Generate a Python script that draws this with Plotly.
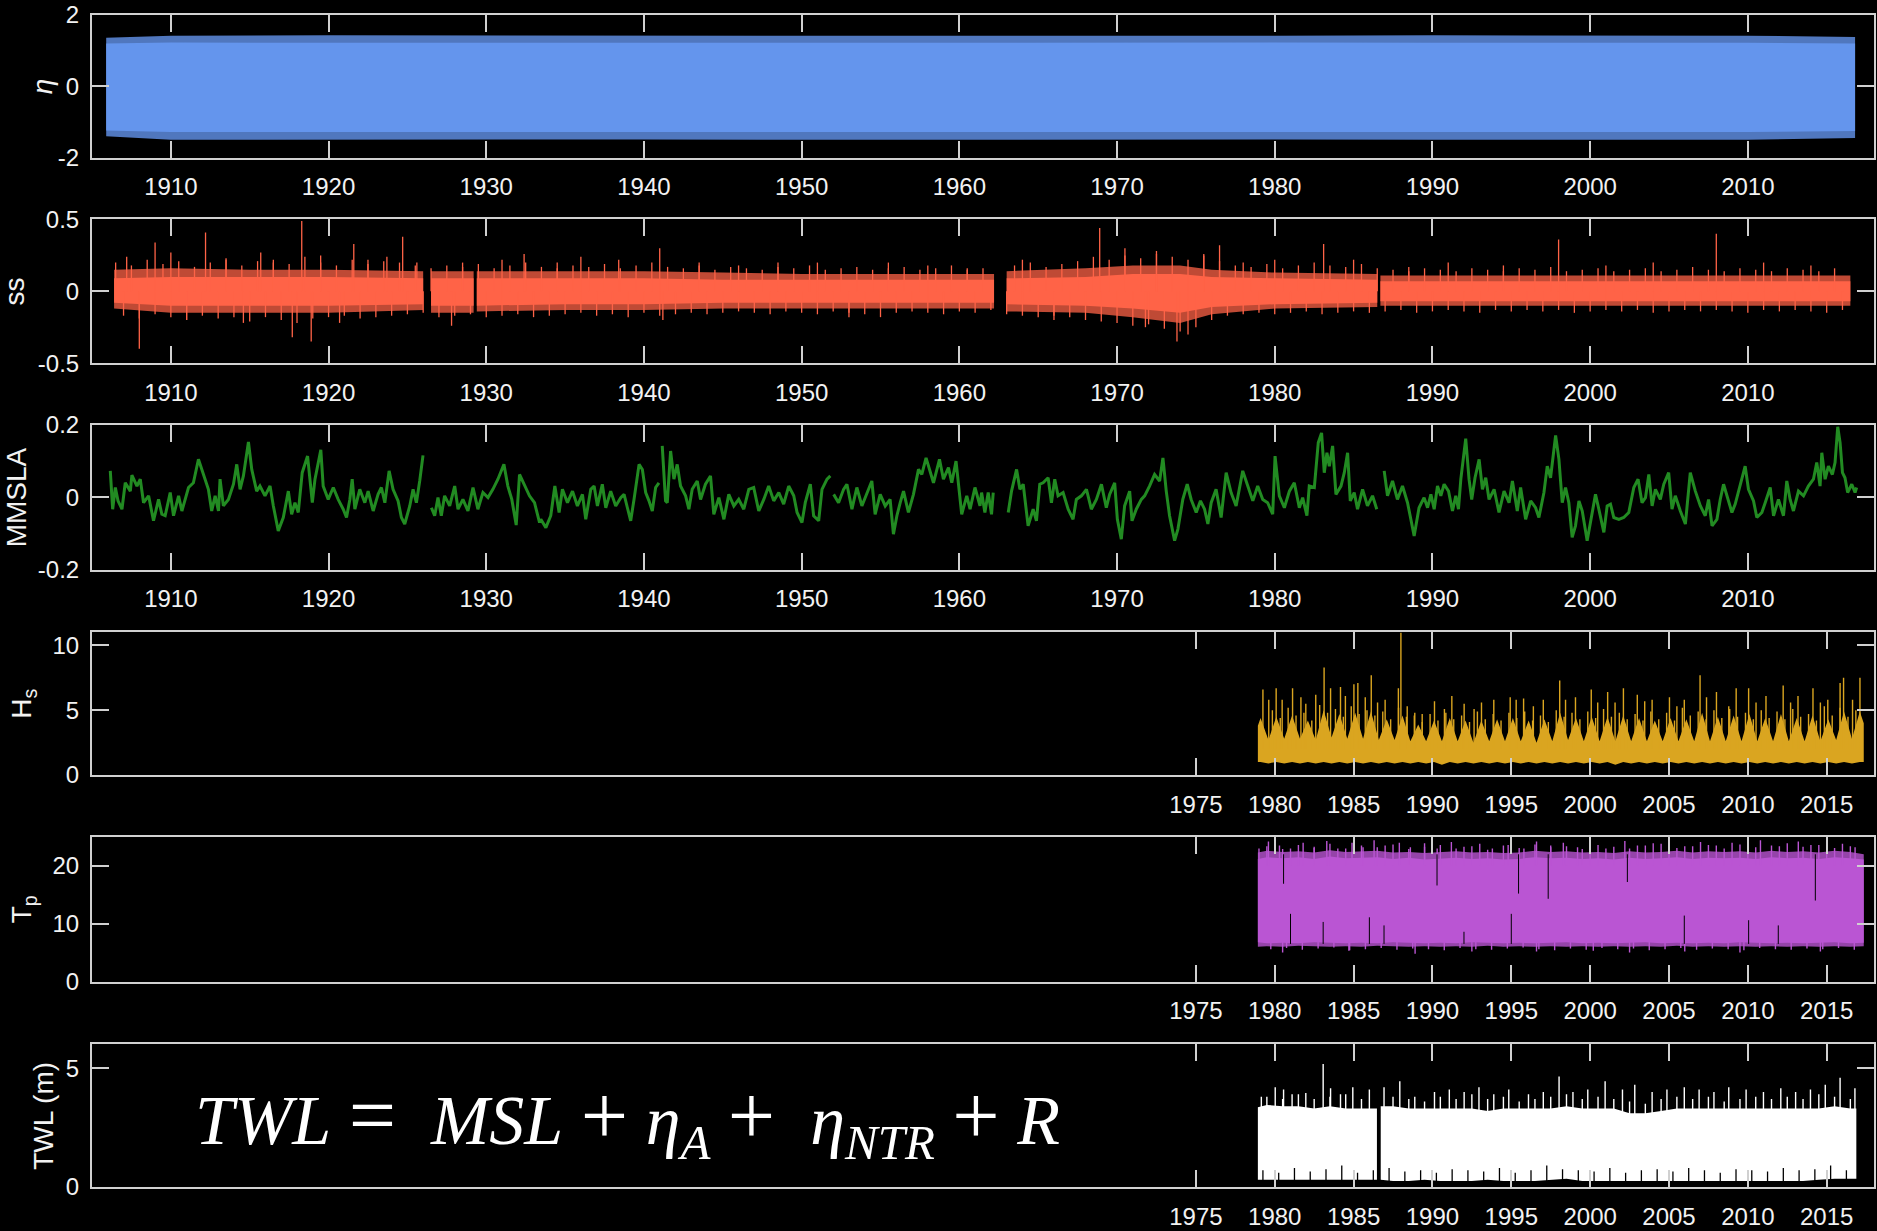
import plotly.graph_objects as go

# ------------------------------------------------------------------ DATA
YEAR_RANGE = [1905, 2018]
ticks_long = [1910, 1920, 1930, 1940, 1950, 1960, 1970, 1980, 1990, 2000, 2010]
ticks_short = [1975, 1980, 1985, 1990, 1995, 2000, 2005, 2010, 2015]

# eta (astronomical tide): dense band -> solid core + spiky fringe levels
eta_t = [1905.9, 1910, 1920, 1930, 1940, 1950, 1960, 1970, 1980, 1990, 2000, 2010, 2016.8]
eta_core_hi = [1.20, 1.23, 1.22, 1.23, 1.22, 1.22, 1.23, 1.22, 1.23, 1.22, 1.23, 1.22, 1.20]
eta_core_lo = [-1.24, -1.28, -1.28, -1.27, -1.28, -1.28, -1.27, -1.28, -1.28, -1.27, -1.28, -1.28, -1.25]
eta_spk_hi = [1.36, 1.42, 1.43, 1.42, 1.41, 1.42, 1.42, 1.41, 1.42, 1.43, 1.42, 1.42, 1.38]
eta_spk_lo = [-1.40, -1.50, -1.51, -1.50, -1.49, -1.50, -1.51, -1.50, -1.49, -1.50, -1.51, -1.50, -1.45]

# ss (storm surge): core band, fringe band, extreme spikes, yearly envelope spikes
ss_t = [1906.4, 1910, 1915, 1920, 1926.0, None,
        1926.5, 1929.2, None,
        1929.4, 1935, 1940, 1945, 1950, 1955, 1962.2, None,
        1963.0, 1968, 1971, 1974, 1976, 1980, 1986.5, None,
        1986.7, 1990, 1995, 2000, 2005, 2010, 2016.5]
ss_core_hi = [0.09, 0.10, 0.10, 0.10, 0.09, None,
              0.09, 0.09, None,
              0.09, 0.09, 0.09, 0.08, 0.08, 0.08, 0.08, None,
              0.09, 0.10, 0.12, 0.12, 0.10, 0.09, 0.08, None,
              0.07, 0.07, 0.07, 0.07, 0.07, 0.07, 0.07]
ss_core_lo = [-0.08, -0.10, -0.10, -0.10, -0.09, None,
              -0.10, -0.10, None,
              -0.10, -0.09, -0.09, -0.08, -0.08, -0.08, -0.08, None,
              -0.09, -0.10, -0.12, -0.15, -0.11, -0.09, -0.08, None,
              -0.07, -0.07, -0.07, -0.07, -0.07, -0.07, -0.07]
ss_frg_hi = [0.15, 0.16, 0.15, 0.15, 0.14, None,
             0.14, 0.14, None,
             0.14, 0.14, 0.14, 0.13, 0.12, 0.12, 0.12, None,
             0.14, 0.16, 0.18, 0.18, 0.15, 0.13, 0.12, None,
             0.11, 0.11, 0.11, 0.11, 0.11, 0.11, 0.11]
ss_frg_lo = [-0.12, -0.15, -0.15, -0.15, -0.13, None,
             -0.15, -0.15, None,
             -0.14, -0.13, -0.13, -0.12, -0.12, -0.12, -0.12, None,
             -0.14, -0.15, -0.18, -0.22, -0.16, -0.12, -0.11, None,
             -0.10, -0.10, -0.10, -0.10, -0.10, -0.10, -0.10]
ss_spk_t = [1907.2, 1908.0, 1909.0, 1910.0, 1911.0, 1912.2, 1913.5, 1914.6, 1915.7, 1916.5,
            1917.7, 1918.3, 1918.9, 1919.5, 1920.7, 1921.6, 1922.5, 1923.7, 1924.7, 1925.6,
            1927.8, 1928.5, 1931.0, 1932.4, 1934.5, 1936.0, 1938.4, 1941.0, 1941.2, 1943.5,
            1946.0, 1948.5, 1951.0, 1953.0, 1955.5, 1958.0, 1960.5, 1964.0, 1966.0, 1968.9,
            1970.5, 1971.8, 1972.5, 1973.8, 1974.5, 1975.5, 1976.5, 1978.0, 1980.0, 1983.1,
            1985.0, 1988.5, 1991.0, 1994.5, 1998.0, 2001.0, 2004.0, 2008.0, 2011.0, 2014.0]
ss_spk_v = [0.24, -0.40, 0.34, 0.27, -0.20, 0.41, 0.22, -0.22, 0.27, 0.20,
            -0.32, 0.49, -0.35, 0.25, -0.22, 0.33, 0.22, 0.24, 0.38, 0.20,
            -0.24, 0.20, 0.22, 0.26, 0.20, 0.24, 0.22, 0.30, -0.20, 0.20,
            0.18, 0.20, 0.20, -0.18, 0.20, 0.18, 0.16, 0.22, -0.20, 0.44,
            0.30, -0.25, 0.28, -0.35, -0.30, 0.26, 0.32, 0.20, 0.22, 0.33,
            0.22, 0.17, 0.20, 0.18, 0.36, 0.18, 0.20, 0.40, 0.20, 0.18]
# typical yearly positive peak (mid-year samples, 1906.5 ... 2015.5 without 1962.5)
ss_yr_hi_t = [y + 0.5 for y in range(1906, 2016) if y != 1962]
ss_yr_hi_v = [0.20, 0.18, 0.22, 0.19, 0.21, 0.17, 0.20, 0.23, 0.18, 0.21,
              0.22, 0.19, 0.24, 0.20, 0.18, 0.22, 0.19, 0.21, 0.20, 0.18,
              0.16, 0.18, 0.17, 0.19, 0.16, 0.18, 0.20, 0.17, 0.16, 0.18,
              0.17, 0.19, 0.16, 0.18, 0.20, 0.17, 0.16, 0.18, 0.15, 0.17,
              0.16, 0.15, 0.17, 0.16, 0.18, 0.15, 0.16, 0.17, 0.15, 0.16,
              0.17, 0.15, 0.16, 0.18, 0.15, 0.16,
              0.18, 0.20, 0.17, 0.19, 0.21, 0.24, 0.22, 0.25, 0.23, 0.26,
              0.24, 0.22, 0.25, 0.21, 0.18, 0.17, 0.19, 0.16, 0.18, 0.20,
              0.18, 0.17, 0.19, 0.16, 0.15, 0.14, 0.16, 0.15, 0.14, 0.16,
              0.15, 0.14, 0.16, 0.15, 0.17, 0.14, 0.15, 0.16, 0.14, 0.15,
              0.16, 0.14, 0.15, 0.17, 0.15, 0.14, 0.16, 0.15, 0.14, 0.16,
              0.15, 0.14, 0.16]
# typical yearly negative peak (start-of-year samples, 1907 ... 2016)
ss_yr_lo_t = [y + 0.0 for y in range(1907, 2017)]
ss_yr_lo_v = [-0.17, -0.19, -0.16, -0.18, -0.20, -0.17, -0.19, -0.18, -0.21, -0.18,
              -0.20, -0.22, -0.19, -0.18, -0.17, -0.19, -0.18, -0.17, -0.16, -0.15,
              -0.18, -0.17, -0.16, -0.18, -0.17, -0.16, -0.18, -0.17, -0.16, -0.15,
              -0.17, -0.16, -0.18, -0.15, -0.17, -0.16, -0.15, -0.16, -0.15, -0.14,
              -0.15, -0.16, -0.14, -0.15, -0.16, -0.14, -0.15, -0.16, -0.18, -0.15,
              -0.14, -0.15, -0.16, -0.14, -0.15, -0.13, -0.16, -0.17, -0.18, -0.17,
              -0.18, -0.20, -0.21, -0.22, -0.24, -0.23, -0.26, -0.28, -0.25, -0.20,
              -0.17, -0.16, -0.15, -0.16, -0.15, -0.14, -0.16, -0.15, -0.14, -0.15,
              -0.14, -0.13, -0.15, -0.14, -0.13, -0.14, -0.15, -0.13, -0.14, -0.13,
              -0.14, -0.13, -0.15, -0.14, -0.13, -0.14, -0.13, -0.15, -0.14, -0.13,
              -0.14, -0.13, -0.14, -0.15, -0.13, -0.14, -0.13, -0.14, -0.15, -0.13]

# MMSLA (monthly mean sea level anomaly)
mm_t = [1906.16, 1906.31, 1906.48, 1906.65, 1906.90, 1907.11, 1907.43, 1907.53, 1907.85, 1908.06,
        1908.27, 1908.59, 1908.90, 1909.22, 1909.43, 1909.64, 1909.96, 1910.17, 1910.49, 1910.70,
        1911.12, 1911.43, 1911.75, 1912.07, 1912.38, 1912.59, 1912.81, 1913.02, 1913.12, 1913.33,
        1913.65, 1913.97, 1914.18, 1914.39, 1914.60, 1914.92, 1915.13, 1915.44, 1915.65, 1915.97,
        1916.29, 1916.50, 1916.81, 1917.13, 1917.45, 1917.66, 1917.87, 1918.08, 1918.33, 1918.67,
        1918.82, 1918.97, 1919.14, 1919.51, 1919.66, 1919.98, 1920.30, 1920.61, 1920.93, 1921.14,
        1921.35, 1921.50, 1921.67, 1921.98, 1922.30, 1922.51, 1922.83, 1923.14, 1923.35, 1923.57,
        1923.84, 1924.09, 1924.41, 1924.62, 1924.83, 1925.15, 1925.36, 1925.57, 1925.78, 1925.99,
        None,
        1926.52, 1926.73, 1926.94, 1927.15, 1927.36, 1927.68, 1928.00, 1928.21, 1928.52, 1928.84,
        1929.16, 1929.47, 1929.79, 1930.11, 1930.42, 1930.74, 1931.12, 1931.37, 1931.62, 1931.90,
        1932.11, 1932.43, 1932.74, 1933.06, 1933.38, 1933.46, 1933.78, 1934.09, 1934.35, 1934.62,
        1934.83, 1935.15, 1935.47, 1935.78, 1936.10, 1936.31, 1936.63, 1936.84, 1937.05, 1937.36,
        1937.58, 1937.89, 1938.21, 1938.53, 1938.74, 1938.95, 1939.16, 1939.37, 1939.69, 1939.90,
        1940.11, 1940.32, 1940.53, 1940.74, 1940.95,
        None,
        1941.16, 1941.37, 1941.48, 1941.69, 1941.90, 1942.11, 1942.32, 1942.64, 1942.85, 1943.06,
        1943.38, 1943.59, 1943.90, 1944.22, 1944.43, 1944.75, 1945.07, 1945.38, 1945.70, 1946.01,
        1946.33, 1946.65, 1946.96, 1947.28, 1947.60, 1947.91, 1948.23, 1948.55, 1948.86, 1949.18,
        1949.50, 1949.71, 1950.02, 1950.23, 1950.55, 1950.76, 1951.08, 1951.29, 1951.61, 1951.82,
        None,
        1952.03, 1952.34, 1952.66, 1952.87, 1953.19, 1953.50, 1953.82, 1954.14, 1954.45, 1954.66,
        1954.98, 1955.30, 1955.61, 1955.82, 1956.04, 1956.25, 1956.46, 1956.77, 1957.09, 1957.41,
        1957.62, 1957.89, 1958.15, 1958.36, 1958.74, 1958.99, 1959.31, 1959.52, 1959.79, 1960.04,
        1960.15, 1960.47, 1960.68, 1960.99, 1961.31, 1961.41, 1961.62, 1961.83, 1962.04, 1962.15,
        None,
        1963.10, 1963.31, 1963.63, 1963.84, 1964.05, 1964.36, 1964.68, 1964.89, 1965.10, 1965.31,
        1965.63, 1965.84, 1966.05, 1966.26, 1966.58, 1966.90, 1967.21, 1967.42, 1967.74, 1968.06,
        1968.37, 1968.69, 1969.01, 1969.32, 1969.53, 1969.85, 1970.02, 1970.27, 1970.48, 1970.80,
        1970.95, 1971.22, 1971.54, 1971.75, 1972.06, 1972.38, 1972.70, 1972.91, 1973.12, 1973.33,
        1973.65, 1973.86, 1974.17, 1974.45, 1974.70, 1975.02, 1975.29, 1975.55, 1975.76, 1975.97,
        1976.28, 1976.60, 1976.92, 1977.23, 1977.55, 1977.97, 1978.29, 1978.61, 1978.92, 1979.24,
        1979.55, 1979.87, 1980.02, 1980.29, 1980.61, 1980.93, 1981.24, 1981.56, 1981.77, 1982.04,
        1982.19, 1982.51, 1982.76, 1982.97, 1983.14, 1983.31, 1983.46, 1983.67, 1983.88, 1984.20,
        1984.41, 1984.62, 1984.79, 1985.04, 1985.25, 1985.57, 1985.88, 1986.20, 1986.47,
        None,
        1986.94, 1987.15, 1987.47, 1987.78, 1988.10, 1988.42, 1988.63, 1988.84, 1989.15, 1989.47,
        1989.69, 1989.90, 1990.11, 1990.32, 1990.53, 1990.74, 1991.02, 1991.27, 1991.48, 1991.65,
        1991.80, 1991.94, 1992.11, 1992.32, 1992.49, 1992.70, 1992.96, 1993.17, 1993.38, 1993.59,
        1993.91, 1994.22, 1994.54, 1994.86, 1995.07, 1995.38, 1995.59, 1995.91, 1996.23, 1996.54,
        1996.75, 1997.07, 1997.28, 1997.49, 1997.81, 1998.02, 1998.23, 1998.44, 1998.65, 1998.86,
        1999.07, 1999.29, 1999.50, 1999.81, 2000.02, 2000.34, 2000.55, 2000.87, 2001.08, 2001.29,
        2001.50, 2001.82, 2002.13, 2002.45, 2002.77, 2003.04, 2003.29, 2003.51, 2003.72, 2003.93,
        2004.14, 2004.45, 2004.67, 2004.98, 2005.19, 2005.40, 2005.72, 2006.04, 2006.35, 2006.67,
        2006.99, 2007.30, 2007.51, 2007.73, 2008.04, 2008.25, 2008.46, 2008.67, 2008.99, 2009.20,
        2009.52, 2009.83, 2010.04, 2010.36, 2010.57, 2010.89, 2011.10, 2011.42, 2011.63, 2011.94,
        2012.26, 2012.47, 2012.68, 2012.89, 2013.21, 2013.53, 2013.84, 2014.16, 2014.37, 2014.58,
        2014.69, 2014.90, 2015.11, 2015.36, 2015.53, 2015.70, 2015.85, 2016.00, 2016.16, 2016.33,
        2016.59, 2016.80, 2016.90]
mm_v = [0.073, -0.033, 0.027, -0.010, -0.033, 0.040, 0.017, 0.061, 0.031, 0.050,
        -0.015, 0.004, -0.065, -0.006, -0.047, -0.051, 0.013, -0.051, 0.004, -0.038,
        0.027, 0.040, 0.105, 0.063, 0.022, -0.038, 0.004, -0.038, 0.050, -0.024,
        -0.006, 0.036, 0.091, 0.022, 0.059, 0.153, 0.077, 0.017, 0.031, 0.004,
        0.031, -0.024, -0.093, -0.056, 0.017, -0.047, -0.015, -0.042, 0.068, 0.114,
        0.054, -0.015, 0.050, 0.131, 0.031, -0.006, 0.027, -0.006, -0.033, -0.056,
        -0.006, 0.050, -0.033, 0.022, -0.015, 0.017, -0.038, 0.008, 0.027, -0.015,
        0.073, 0.022, -0.010, -0.056, -0.074, -0.024, 0.022, -0.015, 0.045, 0.116,
        None,
        -0.029, -0.051, -0.001, -0.051, 0.004, -0.024, 0.031, -0.033, -0.006, -0.038,
        0.027, -0.033, 0.013, -0.001, 0.022, 0.050, 0.091, 0.031, -0.006, -0.077,
        0.063, 0.031, 0.004, -0.015, -0.070, -0.061, -0.084, -0.051, 0.031, -0.042,
        0.022, -0.015, 0.017, -0.024, 0.008, -0.061, 0.022, 0.031, -0.024, 0.036,
        -0.029, 0.017, -0.024, -0.001, 0.008, -0.029, -0.065, -0.006, 0.091, 0.077,
        0.013, -0.010, -0.038, 0.027, 0.040,
        None,
        0.142, -0.010, -0.015, 0.128, 0.050, 0.091, 0.031, 0.004, -0.033, 0.022,
        0.045, -0.006, 0.036, 0.059, -0.047, -0.001, -0.061, 0.008, -0.024, -0.006,
        -0.033, 0.022, 0.027, -0.038, -0.006, 0.031, -0.010, 0.013, -0.019, 0.031,
        0.004, -0.042, -0.070, -0.015, 0.036, -0.051, -0.065, 0.022, 0.050, 0.059,
        None,
        0.008, -0.015, 0.022, 0.036, -0.033, 0.027, -0.024, 0.013, 0.045, -0.047,
        0.008, -0.024, -0.006, -0.102, -0.051, -0.015, 0.017, -0.042, 0.008, 0.077,
        0.063, 0.109, 0.068, 0.040, 0.105, 0.050, 0.082, 0.040, 0.100, 0.004,
        -0.047, 0.004, -0.033, 0.027, -0.024, 0.013, -0.042, 0.013, -0.047, 0.013,
        None,
        -0.042, 0.017, 0.077, 0.022, 0.036, -0.079, -0.033, -0.065, 0.036, 0.040,
        0.054, -0.015, 0.050, 0.004, 0.013, -0.033, -0.061, -0.006, 0.004, 0.022,
        -0.033, -0.006, 0.036, -0.029, 0.008, 0.040, -0.061, -0.116, -0.024, 0.017,
        -0.065, -0.033, -0.006, 0.004, 0.031, 0.063, 0.045, 0.109, 0.017, -0.051,
        -0.120, -0.088, -0.006, 0.036, -0.006, -0.042, -0.010, -0.033, -0.074, -0.015,
        0.022, -0.056, 0.068, 0.013, -0.024, 0.073, 0.031, -0.010, 0.031, -0.006,
        -0.015, -0.047, 0.114, 0.004, -0.029, 0.017, 0.040, -0.029, -0.001, -0.051,
        0.031, 0.027, 0.151, 0.178, 0.068, 0.123, 0.086, 0.142, 0.008, 0.031,
        0.068, 0.123, -0.010, 0.013, -0.033, 0.022, -0.024, 0.004, -0.033,
        None,
        0.073, 0.004, 0.045, -0.006, 0.031, -0.015, -0.061, -0.107, -0.029, -0.001,
        -0.029, 0.008, -0.033, 0.031, 0.004, 0.036, 0.017, -0.038, 0.004, -0.033,
        0.050, 0.105, 0.162, 0.050, -0.006, 0.054, 0.105, 0.022, 0.054, -0.006,
        0.022, -0.042, 0.017, -0.015, 0.045, -0.038, 0.027, -0.061, -0.010, -0.029,
        -0.056, 0.013, 0.086, 0.054, 0.171, 0.105, -0.015, 0.027, -0.015, -0.111,
        -0.079, -0.010, -0.038, -0.120, -0.070, 0.008, -0.033, -0.097, -0.024, -0.019,
        -0.056, -0.061, -0.056, -0.042, 0.027, 0.050, -0.015, -0.001, 0.063, -0.024,
        0.022, -0.006, 0.036, 0.068, -0.033, 0.004, -0.038, -0.074, 0.068, 0.017,
        -0.024, -0.051, -0.006, -0.079, -0.061, -0.006, 0.036, 0.004, -0.042, -0.019,
        0.031, 0.086, 0.022, -0.010, -0.056, -0.042, -0.015, 0.027, -0.051, -0.006,
        -0.051, 0.045, -0.006, -0.038, 0.017, 0.004, 0.031, 0.050, 0.096, 0.031,
        0.123, 0.050, 0.086, 0.063, 0.096, 0.195, 0.151, 0.068, 0.054, 0.013,
        0.036, 0.013, 0.027]

# Hs (significant wave height): seasonal band (winter / summer) + storm spikes
hs_t = [1978.93] + [1979.1 + 0.5 * k for k in range(77)] + [2017.35]
hs_hi = [3.8,
         4.4, 2.7, 4.5, 2.8, 4.6, 2.8, 4.2, 2.7, 5.0, 2.9, 4.7, 2.8, 4.8, 2.8, 4.9, 2.7,
         4.3, 2.7, 4.6, 2.6, 3.9, 2.6, 4.2, 2.6, 4.4, 2.6, 4.2, 2.5, 4.2, 2.6, 4.3, 2.6,
         4.4, 2.6, 4.2, 2.5, 4.3, 2.6, 4.8, 2.7, 4.4, 2.6, 4.5, 2.6, 4.5, 2.6, 4.6, 2.6,
         4.4, 2.6, 4.2, 2.6, 4.4, 2.6, 4.3, 2.6, 4.8, 2.6, 4.5, 2.6, 4.6, 2.6, 4.7, 2.6,
         4.4, 2.6, 4.7, 2.6, 4.4, 2.6, 4.6, 2.6, 4.3, 2.7, 4.9, 2.8,
         4.9, 4.0]
hs_lo = [1.0,
         1.0, 0.9, 1.0, 0.9, 1.0, 0.9, 1.0, 0.9, 1.0, 0.9, 1.0, 0.9, 1.0, 0.9, 1.0, 0.9,
         1.0, 0.9, 1.0, 0.9, 1.0, 0.9, 1.0, 0.8, 1.0, 0.9, 1.0, 0.9, 1.0, 0.9, 1.0, 0.9,
         1.0, 0.9, 1.0, 0.9, 1.0, 0.9, 1.0, 0.9, 1.0, 0.9, 1.0, 0.9, 1.0, 0.8, 1.0, 0.9,
         1.0, 0.9, 1.0, 0.9, 1.0, 0.9, 1.0, 0.9, 1.0, 0.9, 1.0, 0.9, 1.0, 0.9, 1.0, 0.9,
         1.0, 0.9, 1.0, 0.9, 1.0, 0.9, 1.0, 0.9, 1.0, 0.9, 1.0, 0.9,
         1.0, 1.0]
hs_spk_t = [1979.25, 1979.62, 1980.09, 1980.47, 1981.13, 1981.66, 1981.97, 1982.60, 1983.13, 1983.54,
            1984.17, 1984.48, 1985.02, 1985.27, 1985.74, 1986.12, 1986.52, 1987.00, 1987.84, 1988.00,
            1988.40, 1988.88, 1989.35, 1990.13, 1990.76, 1991.23, 1992.01, 1992.64, 1993.11, 1993.89,
            1994.93, 1995.31, 1995.78, 1996.40, 1997.03, 1998.07, 1998.44, 1999.07, 2000.07, 2000.48,
            2001.11, 2001.58, 2002.11, 2002.99, 2003.46, 2003.93, 2005.03, 2005.50, 2005.97, 2006.97,
            2007.38, 2008.01, 2008.79, 2009.26, 2010.05, 2010.52, 2011.15, 2012.24, 2012.71, 2013.18,
            2014.13, 2014.60, 2015.07, 2015.85, 2016.07, 2016.64, 2017.11]
hs_spk_v = [6.6, 5.8, 6.7, 5.8, 6.7, 6.0, 5.5, 6.2, 8.3, 6.7,
            6.8, 6.1, 7.0, 7.1, 6.0, 7.7, 5.6, 5.8, 6.7, 11.0,
            5.3, 4.8, 4.7, 5.7, 5.1, 6.1, 5.5, 5.1, 5.6, 5.8,
            6.0, 5.8, 5.9, 5.3, 5.8, 7.3, 5.8, 6.0, 6.6, 5.6,
            6.4, 5.6, 6.7, 6.2, 5.7, 5.8, 6.0, 5.3, 5.8, 7.7,
            6.0, 6.4, 5.3, 6.7, 6.7, 5.6, 6.1, 6.9, 5.6, 6.1,
            6.7, 5.6, 5.8, 7.1, 7.5, 5.8, 7.5]
hs_aut_t = [y + 0.85 for y in range(1979, 2017)]
hs_aut_v = [5.0, 5.2, 4.8, 5.4, 5.1, 5.3, 5.0, 4.9, 5.2, 4.6, 4.7, 4.8, 4.6, 4.9, 4.7, 4.8, 4.9, 4.6, 5.0,
            4.8, 4.9, 5.1, 4.8, 4.7, 4.9, 4.8, 5.2, 4.9, 5.0, 5.1, 4.8, 5.0, 4.9, 5.1, 4.7, 5.3, 5.2, 5.0]
hs_spr_t = [y + 0.35 for y in range(1980, 2017)]
hs_spr_v = [4.4, 4.6, 4.2, 4.8, 4.5, 4.7, 4.6, 4.3, 4.5, 4.1, 4.2, 4.3, 4.1, 4.3, 4.2, 4.4, 4.2, 4.1, 4.5,
            4.3, 4.4, 4.5, 4.3, 4.2, 4.3, 4.2, 4.6, 4.3, 4.4, 4.5, 4.3, 4.4, 4.3, 4.5, 4.2, 4.6, 4.5]

# Tp (peak wave period)
tp_t = [1978.93, 1979.5, 1980.5, 1981.5, 1982.5, 1983.5, 1984.5, 1985.5, 1986.5, 1987.5, 1988.5,
        1989.5, 1990.5, 1991.5, 1992.5, 1993.5, 1994.5, 1995.5, 1996.5, 1997.5, 1998.5,
        1999.5, 2000.5, 2001.5, 2002.5, 2003.5, 2004.5, 2005.5, 2006.5, 2007.5, 2008.5,
        2009.5, 2010.5, 2011.5, 2012.5, 2013.5, 2014.5, 2015.5, 2016.5, 2017.35]
tp_core_hi = [21.2, 21.5, 21.3, 21.5, 21.2, 21.6, 21.3, 21.4, 21.5, 21.2, 21.4,
              21.1, 21.3, 21.4, 21.2, 21.3, 21.1, 21.2, 21.5, 21.3, 21.4,
              21.2, 21.3, 21.1, 21.4, 21.2, 21.3, 21.5, 21.2, 21.4, 21.3,
              21.4, 21.2, 21.5, 21.3, 21.4, 21.2, 21.5, 21.3, 21.1]
tp_frg_hi = [22.3, 22.6, 22.4, 22.5, 22.3, 22.7, 22.4, 22.5, 22.6, 22.3, 22.4,
             22.2, 22.4, 22.5, 22.3, 22.4, 22.2, 22.3, 22.6, 22.4, 22.5,
             22.3, 22.4, 22.2, 22.5, 22.3, 22.4, 22.6, 22.3, 22.5, 22.4,
             22.5, 22.3, 22.6, 22.4, 22.5, 22.3, 22.6, 22.4, 22.0]
tp_core_lo = [6.8, 6.6, 6.7, 6.6, 6.8, 6.7, 6.6, 6.7, 6.6, 6.8, 6.7,
              6.6, 6.7, 6.6, 6.8, 6.7, 6.6, 6.7, 6.6, 6.7, 6.8,
              6.6, 6.7, 6.6, 6.7, 6.8, 6.6, 6.7, 6.6, 6.7, 6.6,
              6.8, 6.7, 6.6, 6.7, 6.6, 6.7, 6.8, 6.6, 6.7]
tp_frg_lo = [6.0, 6.1, 6.0, 6.2, 6.1, 6.0, 6.1, 6.0, 6.2, 6.1, 6.0,
             6.1, 6.0, 6.1, 6.0, 6.2, 6.0, 6.1, 6.0, 6.1, 6.0,
             6.1, 6.0, 6.1, 6.0, 6.1, 6.0, 6.2, 6.0, 6.1, 6.0,
             6.1, 6.0, 6.1, 6.0, 6.1, 6.0, 6.1, 6.0, 6.1]
tp_spk_t = [1979.0, 1979.6, 1980.3, 1981.0, 1981.8, 1982.5, 1983.3, 1984.0, 1984.9, 1985.6,
            1986.3, 1987.0, 1987.9, 1988.6, 1989.5, 1990.3, 1991.2, 1992.0, 1993.0, 1993.8,
            1994.8, 1995.8, 1996.6, 1997.5, 1998.3, 1999.2, 2000.0, 2001.0, 2002.2, 2003.0,
            2004.0, 2005.0, 2006.0, 2007.0, 2008.0, 2009.0, 2010.0, 2010.8, 2012.0, 2013.2,
            2014.0, 2015.0, 2016.0, 2016.8]
tp_spk_v = [23.0, 24.2, 23.5, 23.0, 24.0, 23.3, 24.3, 23.0, 24.0, 23.2,
            24.4, 23.5, 24.0, 23.2, 23.9, 23.0, 24.1, 23.3, 23.8, 23.0,
            23.6, 23.0, 24.2, 23.5, 24.0, 23.2, 23.8, 23.0, 24.3, 23.5,
            23.9, 24.3, 23.4, 24.1, 23.5, 24.0, 23.6, 24.4, 23.4, 24.2,
            23.6, 24.4, 23.8, 23.2]
tp_mid_t = [y + 0.5 for y in range(1979, 2017)]
tp_mid_v = [23.4, 22.9, 23.6, 23.1, 23.8, 23.0, 23.5, 23.2, 23.7, 22.9, 23.3, 23.6, 23.0, 23.4, 22.8,
            23.5, 23.1, 23.7, 23.2, 23.4, 22.9, 23.6, 23.3, 23.0, 23.5, 23.8, 23.1, 23.4, 23.6, 23.0,
            23.7, 23.2, 23.5, 23.9, 23.3, 23.6, 23.1, 23.4]
tp_dip_t = [1980.5, 1984.7, 1988.9, 1992.5, 1996.6, 2000.2, 2002.5, 2006.0, 2009.5, 2014.6]
tp_dip_v = [5.0, 5.3, 4.8, 5.2, 5.2, 5.3, 5.0, 5.2, 5.0, 5.2]
tp_dip2_t = [y + 0.75 for y in range(1979, 2017)]
tp_dip2_v = [5.6, 5.8, 5.5, 5.7, 5.9, 5.4, 5.6, 5.8, 5.5, 5.7, 5.6, 5.4, 5.8, 5.6, 5.5, 5.7, 5.9, 5.6, 5.4,
             5.7, 5.5, 5.8, 5.6, 5.7, 5.4, 5.6, 5.8, 5.5, 5.7, 5.6, 5.4, 5.8, 5.6, 5.5, 5.7, 5.6, 5.8, 5.5]
# dark gaps inside the Tp cloud (from the top down / from the bottom up)
tp_gap_top_t = [1980.56, 1990.29, 1995.46, 1997.34, 2002.36, 2014.28]
tp_gap_top_v = [16.9, 16.6, 15.2, 14.3, 17.2, 14.0]
tp_gap_bot_t = [1981.0, 1983.07, 1986.0, 1986.93, 1992.0, 1995.0, 2005.97, 2010.05, 2011.93]
tp_gap_bot_v = [11.7, 10.3, 11.1, 9.7, 8.6, 11.7, 11.4, 10.6, 9.7]

# TWL (total water level)
twl_t = [1978.93, 1979.5, 1980.5, 1981.5, 1982.5, 1983.5, 1984.5, 1985.5, 1986.48, None,
         1986.72, 1987.5, 1988.5, 1989.5, 1990.5, 1991.5, 1992.5, 1993.5, 1994.5, 1995.5,
         1996.5, 1997.5, 1998.5, 1999.5, 2000.5, 2001.5, 2002.5, 2003.5, 2004.5, 2005.5,
         2006.5, 2007.5, 2008.5, 2009.5, 2010.5, 2011.5, 2012.5, 2013.5, 2014.5, 2015.5,
         2016.5, 2016.88]
twl_hi = [3.35, 3.45, 3.4, 3.4, 3.3, 3.4, 3.3, 3.3, 3.3, None,
          3.4, 3.4, 3.3, 3.3, 3.3, 3.3, 3.3, 3.2, 3.3, 3.3,
          3.3, 3.3, 3.4, 3.3, 3.3, 3.3, 3.1, 3.1, 3.2, 3.3,
          3.3, 3.3, 3.3, 3.3, 3.3, 3.3, 3.3, 3.3, 3.3, 3.4,
          3.3, 3.3]
twl_lo = [0.3, 0.3, 0.3, 0.3, 0.3, 0.3, 0.3, 0.3, 0.3, None,
          0.3, 0.25, 0.25, 0.3, 0.25, 0.25, 0.25, 0.3, 0.25, 0.25,
          0.25, 0.3, 0.35, 0.25, 0.25, 0.25, 0.25, 0.25, 0.25, 0.25,
          0.25, 0.25, 0.25, 0.25, 0.25, 0.25, 0.25, 0.25, 0.3, 0.35,
          0.35, 0.35]
twl_spk_t = [1979.15, 1980.03, 1980.56, 1981.10, 1981.97, 1983.07, 1983.54, 1984.17, 1984.95, 1986.00,
             1986.93, 1987.93, 1988.88, 1990.13, 1991.07, 1992.01, 1992.95, 1993.89, 1994.84, 1996.09,
             1997.03, 1998.03, 1998.91, 1999.85, 2000.95, 2002.05, 2002.83, 2003.93, 2004.87, 2005.97,
             2006.91, 2007.85, 2008.79, 2009.89, 2010.99, 2012.09, 2013.03, 2013.97, 2014.91, 2015.85,
             2016.79]
twl_spk_v = [3.8, 4.2, 4.1, 3.9, 3.95, 5.17, 4.15, 3.9, 4.2, 4.1,
             4.2, 4.45, 3.8, 4.0, 4.1, 4.0, 4.2, 3.9, 4.1, 3.9,
             4.0, 4.65, 4.0, 4.1, 4.45, 4.1, 4.3, 4.0, 4.1, 4.2,
             4.1, 4.0, 4.2, 4.1, 4.0, 4.15, 4.0, 4.1, 4.3, 4.6,
             4.15]
twl_mid_t = [y + 0.5 for y in range(1979, 2017) if y != 1986]
twl_mid_v = [3.8, 3.7, 3.9, 3.7, 3.8, 3.9, 3.7,
             3.8, 3.7, 3.6, 3.8, 3.7, 3.9, 3.7, 3.8, 3.6, 3.7,
             3.8, 3.9, 3.7, 3.8, 3.7, 3.6, 3.5, 3.7, 3.8, 3.7,
             3.8, 3.6, 3.7, 3.8, 3.7, 3.8, 3.7, 3.9, 3.8, 3.7]
twl_notch_t = [y + 0.25 for y in range(1979, 2017)]
twl_notch_v = [0.7, 0.6, 0.8, 0.65, 0.75, 0.9, 0.6, 0.7, 0.8, 0.65,
               0.7, 0.6, 0.75, 0.7, 0.65, 0.8, 0.6, 0.7, 0.9, 0.75,
               0.7, 0.65, 0.8, 0.6, 0.7, 0.75, 0.65, 0.8, 0.7, 0.6,
               0.75, 0.7, 0.65, 0.8, 0.7, 0.75, 0.9, 0.7]

# --------------------------------------------------------------- HELPERS
def segments(t, *cols):
    segs, cur = [], [[] for _ in range(len(cols) + 1)]
    for row in zip(t, *cols):
        if row[0] is None:
            if cur[0]:
                segs.append(cur)
            cur = [[] for _ in range(len(cols) + 1)]
        else:
            for k, v in enumerate(row):
                cur[k].append(v)
    if cur[0]:
        segs.append(cur)
    return segs


def band_xy(t, lo, hi):
    xs, ys = [], []
    for st, slo, shi in segments(t, lo, hi):
        xs += st + st[::-1] + [st[0], None]
        ys += shi + slo[::-1] + [shi[0], None]
    return xs, ys


def stems_xy(t, base, tip):
    xs, ys = [], []
    for a, c in zip(t, tip):
        xs += [a, a, None]
        ys += [base, c, None]
    return xs, ys


fig = go.Figure()


def add_band(i, t, lo, hi, color):
    xs, ys = band_xy(t, lo, hi)
    fig.add_trace(go.Scatter(x=xs, y=ys, mode="lines", fill="toself", fillcolor=color,
                             line=dict(width=0, color=color), hoverinfo="skip",
                             xaxis="x" + i, yaxis="y" + i))


def add_stems(i, t, base, tip, color, w=1.4):
    xs, ys = stems_xy(t, base, tip)
    fig.add_trace(go.Scatter(x=xs, y=ys, mode="lines", line=dict(width=w, color=color),
                             hoverinfo="skip", xaxis="x" + i, yaxis="y" + i))


BLUE, RED, GREEN, GOLD, PURPLE, WHITE = "#6495ED", "#FF6347", "#228B22", "#DAA520", "#BA55D3", "#FFFFFF"


def rgba(h, a):
    return "rgba(%d,%d,%d,%.2f)" % (int(h[1:3], 16), int(h[3:5], 16), int(h[5:7], 16), a)


# panel 1: eta
add_band("", eta_t, eta_spk_lo, eta_spk_hi, rgba(BLUE, 0.8))
add_band("", eta_t, eta_core_lo, eta_core_hi, BLUE)
# panel 2: ss
add_band("2", ss_t, ss_frg_lo, ss_frg_hi, rgba(RED, 0.75))
add_band("2", ss_t, ss_core_lo, ss_core_hi, RED)
add_stems("2", ss_yr_hi_t, 0, ss_yr_hi_v, RED, 1.3)
add_stems("2", ss_yr_lo_t, 0, ss_yr_lo_v, RED, 1.3)
add_stems("2", ss_spk_t, 0, ss_spk_v, RED, 1.3)
# panel 3: MMSLA
fig.add_trace(go.Scatter(x=mm_t, y=mm_v, mode="lines", line=dict(width=3, color=GREEN),
                         connectgaps=False, hoverinfo="skip", xaxis="x3", yaxis="y3"))
# panel 4: Hs
add_band("4", hs_t, hs_lo, hs_hi, GOLD)
add_stems("4", hs_aut_t, 2.0, hs_aut_v, GOLD, 1.4)
add_stems("4", hs_spr_t, 2.0, hs_spr_v, GOLD, 1.4)
add_stems("4", hs_spk_t, 2.0, hs_spk_v, GOLD, 1.4)
# panel 5: Tp
add_band("5", tp_t, tp_frg_lo, tp_frg_hi, rgba(PURPLE, 0.8))
add_band("5", tp_t, tp_core_lo, tp_core_hi, PURPLE)
add_stems("5", tp_spk_t, 20.0, tp_spk_v, PURPLE, 1.4)
add_stems("5", tp_mid_t, 20.0, tp_mid_v, PURPLE, 1.4)
add_stems("5", tp_dip_t, 7.0, tp_dip_v, PURPLE, 1.4)
add_stems("5", tp_dip2_t, 7.0, tp_dip2_v, PURPLE, 1.4)
add_stems("5", tp_gap_top_t, 22.0, tp_gap_top_v, "black", 1.0)
add_stems("5", tp_gap_bot_t, 6.5, tp_gap_bot_v, "black", 1.0)
# panel 6: TWL
add_band("6", twl_t, twl_lo, twl_hi, WHITE)
add_stems("6", twl_mid_t, 3.0, twl_mid_v, WHITE, 1.4)
add_stems("6", twl_spk_t, 3.0, twl_spk_v, WHITE, 1.4)
add_stems("6", twl_notch_t, 0.2, twl_notch_v, "black", 1.3)

# ---------------------------------------------------------------- LAYOUT
W, H = 1877, 1231
ML, MR, MT, MB = 92, 1, 14, 42
PH = H - MT - MB
PW = W - ML - MR
panel_px = [(14, 157), (219, 363), (425, 570), (633, 776), (838, 983), (1046, 1189)]
y_ranges = [[-2, 2], [-0.5, 0.5], [-0.2, 0.2], [0, 11], [0, 25], [0, 6]]
y_ticks = [[-2, 0, 2], [-0.5, 0, 0.5], [-0.2, 0, 0.2], [0, 5, 10], [0, 10, 20], [0, 5]]
y_text = [["-2", "0", "2"], ["-0.5", "0", "0.5"], ["-0.2", "0", "0.2"],
          ["0", "5", "10"], ["0", "10", "20"], ["0", "5"]]
AX = "#d0d0d0"
FONT = "Liberation Sans, Arial, Helvetica, sans-serif"
axis_style = dict(showline=True, linecolor=AX, linewidth=2, mirror="ticks", ticks="inside",
                  ticklen=17, tickwidth=2, tickcolor=AX, showgrid=False, zeroline=False,
                  tickfont=dict(family=FONT, size=24, color="#f2f2f2"), fixedrange=True)

layout = dict(width=W, height=H, paper_bgcolor="black", plot_bgcolor="black",
              margin=dict(l=ML, r=MR, t=MT, b=MB, pad=0), showlegend=False)
for k in range(6):
    n = "" if k == 0 else str(k + 1)
    top, bot = panel_px[k]
    dom = [(H - MB - bot) / PH, (H - MB - top) / PH]
    xt = ticks_long if k < 3 else ticks_short
    layout["xaxis" + n] = dict(axis_style, range=YEAR_RANGE, anchor="y" + n, domain=[0, 1],
                               tickvals=xt, ticktext=[str(v) for v in xt], ticklabelstandoff=7)
    layout["yaxis" + n] = dict(axis_style, range=y_ranges[k], anchor="x" + n, domain=dom,
                               tickvals=y_ticks[k], ticktext=y_text[k], ticklabelstandoff=6)

fig.update_layout(**layout)


def px_x(p):
    return (p - ML) / PW


def px_y(p):
    return (H - MB - p) / PH


titles = [("<i>η</i>", 42), ("ss", 14), ("MMSLA", 16), ("H<sub>s</sub>", 24), ("T<sub>p</sub>", 23), ("TWL (m)", 44)]
for k, (txt, xc) in enumerate(titles):
    top, bot = panel_px[k]
    fig.add_annotation(text=txt, xref="paper", yref="paper", x=px_x(xc), y=px_y((top + bot) / 2),
                       xanchor="center", yanchor="middle", textangle=-90, showarrow=False,
                       font=dict(family=FONT, size=28, color="#f2f2f2"))

BIG = '<span style="font-size:84px">%s</span>'
eq = ("<i>TWL</i> " + BIG % "=" + "\u00a0\u00a0<i>MSL</i> " + BIG % "+" + " <i>η<sub>A</sub></i> "
      + BIG % "+" + "\u00a0\u00a0<i>η<sub>NTR</sub></i> " + BIG % "+" + " <i>R</i>")
fig.add_annotation(text=eq, xref="paper", yref="paper", x=px_x(193), y=px_y(1121),
                   xanchor="left", yanchor="middle", showarrow=False,
                   font=dict(family="Liberation Serif, Times New Roman, serif", size=70, color="white"))

fig.write_html("out.html", config={"displayModeBar": False},
               post_script="document.body.style.margin='0';document.body.style.overflow='hidden';")
